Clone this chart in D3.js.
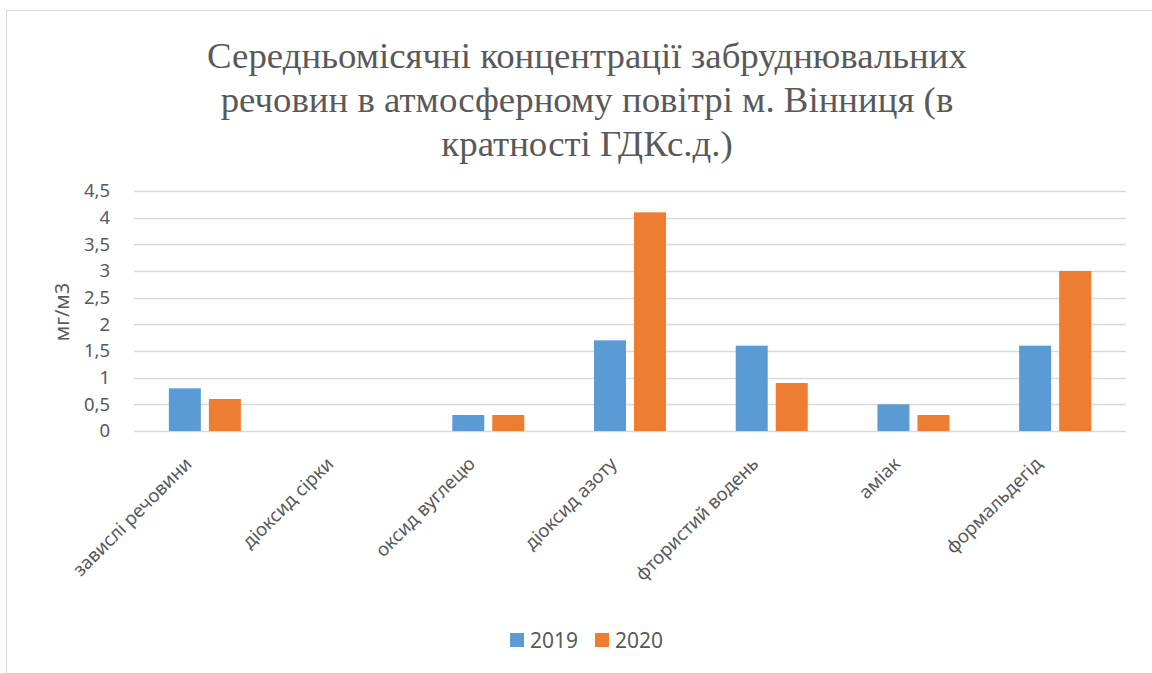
<!DOCTYPE html>
<html>
<head>
<meta charset="utf-8">
<script src="https://cdn.jsdelivr.net/npm/d3@7"></script>
<style>
  body { margin: 0; background: #fff; }
  text { fill: #595959; }
  .title { font-family: "Liberation Serif", "Times New Roman", serif; font-size: 31px; }
  .sans { font-family: "Noto Sans", sans-serif; }
</style>
</head>
<body>
<svg id="chart" width="1152" height="673"></svg>
<script>
var categories = ["завислі речовини", "діоксид сірки", "оксид вуглецю", "діоксид азоту",
                  "фтористий водень", "аміак", "формальдегід"];
var years = ["2019", "2020"];
var values2019 = [0.8, 0, 0.3, 1.7, 1.6, 0.5, 1.6];
var values2020 = [0.6, 0, 0.3, 4.1, 0.9, 0.3, 3.0];
var yTicks = [0, 0.5, 1, 1.5, 2, 2.5, 3, 3.5, 4, 4.5];
var titleLines = ["Середньомісячні концентрації забруднювальних",
                  "речовин в атмосферному повітрі м. Вінниця (в",
                  "кратності ГДКс.д.)"];

var colors = ["#5B9BD5", "#ED7D31"];

var svg = d3.select("#chart");

// chart border
svg.append("rect")
  .attr("x", 6.5).attr("y", 10.5)
  .attr("width", 1160).attr("height", 700)
  .attr("fill", "none")
  .attr("stroke", "#d9d9d9");

var margin = {top: 191, left: 134, right: 26, bottom: 242};
var width = 1152 - margin.left - margin.right,
    height = 673 - margin.top - margin.bottom;

var g = svg.append("g").attr("transform", "translate(" + margin.left + "," + margin.top + ")");

var x = d3.scaleBand().domain(categories).range([0, width]);
var y = d3.scaleLinear().domain([0, 4.5]).range([height, 0]);

// gridlines
g.selectAll(".grid")
  .data(yTicks)
  .enter().append("line")
    .attr("x1", 0).attr("x2", width)
    .attr("y1", function(d) { return Math.round(y(d)) + 0.5; })
    .attr("y2", function(d) { return Math.round(y(d)) + 0.5; })
    .attr("stroke", "#d9d9d9")
    .attr("stroke-width", 1.5);

// y tick labels
var yAxis = g.append("g")
  .call(d3.axisLeft(y).tickValues(yTicks).tickSize(0).tickPadding(24)
    .tickFormat(function(d) { return String(d).replace(".", ","); }));
yAxis.select(".domain").remove();
yAxis.selectAll("text")
  .attr("class", "sans")
  .style("font-size", "18.5px")
  .attr("fill", "#595959");

// bars
var barW = 32, gap = 8;
var series = [values2019, values2020];
series.forEach(function(vals, s) {
  g.selectAll(".bar" + s)
    .data(vals)
    .enter().append("rect")
      .attr("x", function(d, i) {
        var c = x(categories[i]) + x.bandwidth() / 2;
        return s === 0 ? c - gap / 2 - barW : c + gap / 2;
      })
      .attr("y", function(d) { return y(d); })
      .attr("width", barW)
      .attr("height", function(d) { return y(0) - y(d); })
      .attr("fill", colors[s]);
});

// x labels rotated
var xAxis = g.append("g")
  .attr("transform", "translate(0," + height + ")")
  .call(d3.axisBottom(x).tickSize(0).tickPadding(0));
xAxis.select(".domain").remove();
xAxis.selectAll("text")
  .attr("class", "sans")
  .style("font-size", "18.5px")
  .attr("fill", "#595959")
  .attr("text-anchor", "end")
  .attr("dy", "0")
  .attr("y", 0)
  .attr("transform", "translate(-12,34) rotate(-45)");
svg.selectAll(".tick").attr("font-family", null).attr("font-size", null);

// y axis title
svg.append("text")
  .attr("class", "sans")
  .attr("transform", "translate(69,312) rotate(-90)")
  .attr("text-anchor", "middle")
  .style("font-size", "20px")
  .text("мг/м3");

// title
var title = svg.append("g").selectAll("text")
  .data(titleLines)
  .enter().append("text")
    .attr("class", "title")
    .attr("x", 587)
    .attr("y", function(d, i) { return 68 + i * 44; })
    .attr("text-anchor", "middle")
    .text(function(d) { return d; });
// fit first line to the width seen in the reference (~760px)
var w0 = title.node().getComputedTextLength();
var fs = 31 * 760 / w0;
title.style("font-size", fs + "px");

// legend
var legend = svg.append("g").attr("transform", "translate(510,633)");
var legItems = legend.selectAll(".leg")
  .data(years)
  .enter().append("g")
    .attr("transform", function(d, i) { return "translate(" + (i * 85) + ",0)"; });
legItems.append("rect")
  .attr("width", 14).attr("height", 14)
  .attr("fill", function(d, i) { return colors[i]; });
legItems.append("text")
  .attr("class", "sans")
  .attr("x", 20).attr("y", 14.5)
  .style("font-size", "21px")
  .text(function(d) { return d; });
</script>
</body>
</html>
